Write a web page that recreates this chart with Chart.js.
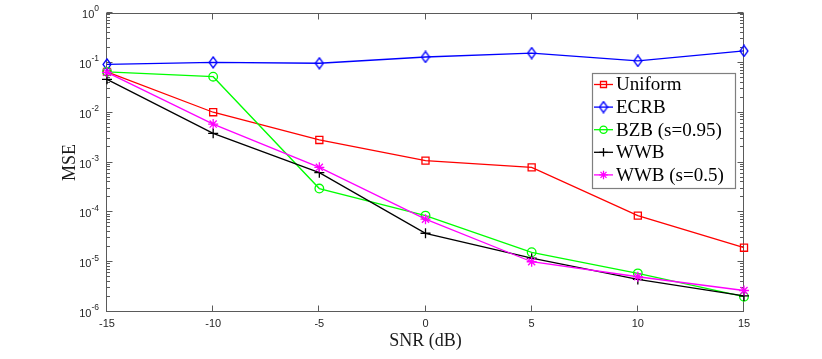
<!DOCTYPE html>
<html><head><meta charset="utf-8">
<script src="https://cdn.jsdelivr.net/npm/chart.js@4.4.1/dist/chart.umd.min.js"></script>
<style>html,body{margin:0;padding:0;background:#fff}#wrap{width:822px;height:359px}</style>
</head><body><div id="wrap"><canvas id="c" width="822" height="359"></canvas></div>
<script>
// ---- data ----
const snr = [-15, -10, -5, 0, 5, 10, 15];
const uniform = [0.066, 0.0102, 0.00283, 0.00109, 0.00080, 8.6e-5, 1.95e-5];
const ecrb = [0.093, 0.102, 0.098, 0.131, 0.157, 0.109, 0.173];
const bzb = [0.066, 0.0527, 3.0e-4, 8.6e-5, 1.58e-5, 5.97e-6, 2.03e-6];
const wwb = [0.0467, 0.00385, 6.25e-4, 3.8e-5, 1.2e-5, 4.5e-6, 2.1e-6];
const wwbS = [0.0645, 0.0059, 8.0e-4, 7.3e-5, 1.02e-5, 5.1e-6, 2.7e-6];
const xTicks = [-15, -10, -5, 0, 5, 10, 15];
const yExps = [-6, -5, -4, -3, -2, -1, 0];
const seriesNames = ['Uniform', 'ECRB', 'BZB (s=0.95)', 'WWB', 'WWB (s=0.5)'];
const xTitle = 'SNR (dB)';
const yTitle = 'MSE';

// diamond marker (taller than wide, like MATLAB)
function makeDiamond(color) {
  const c = document.createElement('canvas');
  c.width = 10; c.height = 13;
  const g = c.getContext('2d');
  g.strokeStyle = color; g.lineWidth = 1.3;
  g.beginPath();
  g.moveTo(5, 1); g.lineTo(9, 6.5); g.lineTo(5, 12); g.lineTo(1, 6.5); g.closePath();
  g.stroke();
  return c;
}
const diamond = makeDiamond('#0000ff');

const styles = [
  { color: '#ff0000', pointStyle: 'rect', radius: 5 },
  { color: '#0000ff', pointStyle: diamond, radius: 6 },
  { color: '#00ff00', pointStyle: 'circle', radius: 4.3 },
  { color: '#000000', pointStyle: 'cross', radius: 5 },
  { color: '#ff00ff', pointStyle: 'star', radius: 5 }
];
const seriesData = [uniform, ecrb, bzb, wwb, wwbS];

const datasets = seriesData.map((vals, i) => ({
  label: seriesNames[i],
  data: snr.map((s, j) => ({ x: s, y: vals[j] })),
  borderColor: styles[i].color,
  backgroundColor: 'rgba(0,0,0,0)',
  borderWidth: 1.3,
  pointStyle: styles[i].pointStyle,
  pointRadius: styles[i].radius,
  pointBorderWidth: 1.3,
  pointBorderColor: styles[i].color,
  pointBackgroundColor: 'rgba(0,0,0,0)',
  tension: 0,
  clip: false,
  order: 4 - i
}));

const AX = '#262626';

const axesPlugin = {
  id: 'matlabAxes',
  beforeDatasetsDraw(chart) {
    const { ctx, chartArea: a, scales: { x, y } } = chart;
    ctx.save();
    const L = Math.round(a.left) - 0.5, R = Math.round(a.right) - 0.5;
    const T = Math.round(a.top) + 0.5, B = Math.round(a.bottom) - 0.5;
    ctx.strokeStyle = '#5a5a5a';
    ctx.lineWidth = 1;
    ctx.strokeRect(L, T, R - L, B - T);
    ctx.beginPath();
    xTicks.forEach(v => {
      const px = Math.round(x.getPixelForValue(v)) - 0.5;
      ctx.moveTo(px, B); ctx.lineTo(px, B - 6);
      ctx.moveTo(px, T); ctx.lineTo(px, T + 6);
    });
    yExps.forEach(e => {
      const py = Math.round(y.getPixelForValue(Math.pow(10, e))) - 0.5;
      ctx.moveTo(L, py); ctx.lineTo(L + 6, py);
      ctx.moveTo(R, py); ctx.lineTo(R - 6, py);
      if (e < 0) {
        for (let m = 2; m <= 9; m++) {
          const pm = Math.round(y.getPixelForValue(m * Math.pow(10, e))) - 0.5;
          ctx.moveTo(L, pm); ctx.lineTo(L + 3.5, pm);
          ctx.moveTo(R, pm); ctx.lineTo(R - 3.5, pm);
        }
      }
    });
    ctx.stroke();
    ctx.fillStyle = AX;
    ctx.font = '11px "Liberation Sans", Arial, sans-serif';
    ctx.textAlign = 'center';
    ctx.textBaseline = 'middle';
    xTicks.forEach(v => {
      ctx.fillText(String(v), x.getPixelForValue(v), a.bottom + 12);
    });
    yExps.forEach(e => {
      const py = y.getPixelForValue(Math.pow(10, e));
      const expStr = String(e);
      ctx.font = '8.5px "Liberation Sans", Arial, sans-serif';
      const ew = ctx.measureText(expStr).width;
      const xr = a.left - 8;
      ctx.textAlign = 'left';
      ctx.fillText(expStr, xr - ew, py - 4);
      ctx.font = '11px "Liberation Sans", Arial, sans-serif';
      ctx.textAlign = 'right';
      ctx.fillText('10', xr - ew, py + 2);
    });
    ctx.fillStyle = '#1a1a1a';
    ctx.font = '18px "Liberation Serif", "Times New Roman", serif';
    ctx.textAlign = 'center';
    ctx.textBaseline = 'middle';
    ctx.fillText(xTitle, (a.left + a.right) / 2, a.bottom + 29);
    ctx.save();
    ctx.translate(a.left - 37, (a.top + a.bottom) / 2);
    ctx.rotate(-Math.PI / 2);
    ctx.fillText(yTitle, 0, 0);
    ctx.restore();
    ctx.restore();
  },
  afterDraw(chart) {
    const { ctx } = chart;
    ctx.save();
    const bx = 592, by = 73, bw = 143, bh = 115;
    ctx.fillStyle = '#ffffff';
    ctx.fillRect(bx, by, bw, bh);
    ctx.strokeStyle = '#7f7f7f';
    ctx.lineWidth = 1.2;
    ctx.strokeRect(bx + 0.5, by + 0.5, bw, bh);
    ctx.font = '19px "Liberation Serif", "Times New Roman", serif';
    ctx.textBaseline = 'middle';
    ctx.textAlign = 'left';
    seriesNames.forEach((name, i) => {
      const yy = 84.5 + i * 22.6;
      const st = styles[i];
      ctx.strokeStyle = st.color;
      ctx.lineWidth = 1.3;
      ctx.beginPath(); ctx.moveTo(594, yy); ctx.lineTo(613, yy); ctx.stroke();
      if (Chart.helpers && Chart.helpers.drawPoint) {
        ctx.fillStyle = 'rgba(0,0,0,0)';
        ctx.strokeStyle = st.color;
        Chart.helpers.drawPoint(ctx, { pointStyle: st.pointStyle, radius: st.radius * 0.85, borderWidth: 1.3, rotation: 0 }, 603.5, yy);
      }
      ctx.fillStyle = '#000';
      ctx.fillText(name, 616, yy + 1);
    });
    ctx.restore();
  }
};

new Chart(document.getElementById('c'), {
  type: 'line',
  data: { datasets },
  options: {
    responsive: false,
    animation: false,
    events: [],
    layout: { padding: { left: 107, right: 78, top: 13, bottom: 47 } },
    plugins: { legend: { display: false }, tooltip: { enabled: false } },
    scales: {
      x: { type: 'linear', min: -15, max: 15, display: false },
      y: { type: 'logarithmic', min: 1e-6, max: 1, display: false }
    }
  },
  plugins: [axesPlugin]
});
</script>
</body></html>
